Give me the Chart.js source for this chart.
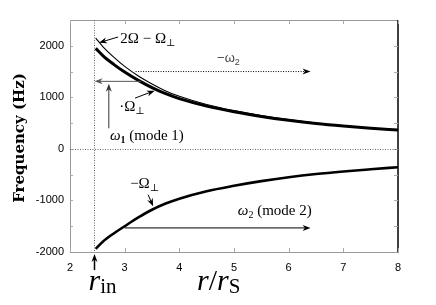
<!DOCTYPE html>
<html>
<head>
<meta charset="utf-8">
<script src="https://cdn.jsdelivr.net/npm/chart.js@4.4.1/dist/chart.umd.min.js"></script>
<style>
  html, body { margin: 0; padding: 0; background: #fff; }
  canvas { display: block; }
</style>
</head>
<body>
<canvas id="freqChart" width="436" height="305"></canvas>
<script>
// radius in units of r_S, frequencies in Hz
var radius            = [2.47, 2.6, 2.8, 3.0, 3.25, 3.5, 3.75, 4.0, 4.5, 5.0, 5.5, 6.0, 6.5, 7.0, 7.5, 8.0];
var omegaPerp         = [1950, 1810, 1640, 1490, 1330, 1190, 1070, 975, 830, 720, 630, 555, 492, 442, 400, 365];
var twoOmegaMinusPerp = [2150, 1985, 1780, 1600, 1415, 1260, 1125, 1020, 860, 742, 648, 568, 502, 449, 405, 368];
var negOmegaPerp      = [-1940, -1800, -1640, -1500, -1330, -1180, -1060, -965, -820, -715, -625, -550, -488, -438, -395, -355];

var xTicks = [2, 3, 4, 5, 6, 7, 8];
var yTicks = [-2000, -1000, 0, 1000, 2000];
var yMinorTicks = [-1500, -1000, -500, 0, 500, 1000, 1500, 2000];
var rIn = 2.43;

var serif = '"Liberation Serif", "DejaVu Serif", serif';
var sans = '"Liberation Sans", Arial, sans-serif';

function pts(vals) {
  return radius.map(function (r, i) { return { x: r, y: vals[i] }; });
}

function mathText(ctx, x, y, segs, color) {
  ctx.save();
  ctx.fillStyle = color || '#000';
  ctx.textBaseline = 'alphabetic';
  ctx.textAlign = 'left';
  segs.forEach(function (s) {
    ctx.font = s[1];
    ctx.fillText(s[0], x, y + (s[2] || 0));
    x += ctx.measureText(s[0]).width;
  });
  ctx.restore();
}

function arrow(ctx, x1, y1, x2, y2, dashed, color, width) {
  var a = Math.atan2(y2 - y1, x2 - x1), len = 8, w = 3;
  ctx.save();
  ctx.strokeStyle = color || '#000';
  ctx.fillStyle = color || '#000';
  ctx.lineWidth = width || 1;
  if (dashed) ctx.setLineDash([1, 1.5]);
  ctx.beginPath();
  ctx.moveTo(x1, y1);
  ctx.lineTo(x2 - Math.cos(a) * len * 0.6, y2 - Math.sin(a) * len * 0.6);
  ctx.stroke();
  ctx.setLineDash([]);
  ctx.beginPath();
  ctx.moveTo(x2, y2);
  ctx.lineTo(x2 - Math.cos(a) * len - Math.sin(a) * w, y2 - Math.sin(a) * len + Math.cos(a) * w);
  ctx.lineTo(x2 - Math.cos(a) * len * 0.7, y2 - Math.sin(a) * len * 0.7);
  ctx.lineTo(x2 - Math.cos(a) * len + Math.sin(a) * w, y2 - Math.sin(a) * len - Math.cos(a) * w);
  ctx.closePath();
  ctx.fill();
  ctx.restore();
}

// arrows and labels, in data units (r, Hz)
var arrows = [
  { from: [2.88, 2170], to: [2.53, 2060] },
  { from: [3.3, 1310], to: [2.45, 1310], color: '#555' },
  { from: [2.71, 400], to: [2.71, 1265], color: '#333' },
  { from: [3.19, 985], to: [3.55, 1130] },
  { from: [3.2, 1500], to: [6.4, 1500], dashed: true },
  { from: [3.43, -890], to: [3.52, -1115] },
  { from: [3.0, -1533], to: [6.4, -1533] }
];

var labels = [
  { at: [2.92, 2056], segs: [['2Ω − Ω', '15px ' + serif], ['⊥', '10px ' + serif, 3]] },
  { at: [2.73, 175], segs: [['ω', 'italic 15px ' + serif], ['1', 'bold 10px ' + serif, 3], [' (mode 1)', '15px ' + serif]] },
  { at: [2.9, 737], segs: [['·Ω', '15px ' + serif], ['⊥', '10px ' + serif, 3]] },
  { at: [4.69, 1690], segs: [['−ω', '13px ' + sans], ['2', '9px ' + sans, 3]], color: '#444' },
  { at: [3.1, -757], segs: [['−Ω', '15px ' + serif], ['⊥', '10px ' + serif, 3]] },
  { at: [5.07, -1280], segs: [['ω', 'italic 15px ' + serif], ['2', '10px ' + serif, 3], [' (mode 2)', '15px ' + serif]] }
];

var decorations = {
  id: 'decorations',
  afterDatasetsDraw: function (chart) {
    var ctx = chart.ctx, ca = chart.chartArea;
    var xs = chart.scales.x, ys = chart.scales.y;
    var X = function (v) { return xs.getPixelForValue(v); };
    var Y = function (v) { return ys.getPixelForValue(v); };

    ctx.save();
    // frame: top gray, right black
    ctx.strokeStyle = '#999';
    ctx.lineWidth = 1;
    ctx.beginPath();
    ctx.moveTo(ca.left, ca.top + 0.5); ctx.lineTo(ca.right, ca.top + 0.5);
    ctx.stroke();
    ctx.strokeStyle = '#000';
    ctx.lineWidth = 1.5;
    ctx.beginPath();
    ctx.moveTo(ca.right, ca.top); ctx.lineTo(ca.right, ca.bottom);
    ctx.stroke();

    // inner ticks
    ctx.strokeStyle = '#aaa';
    ctx.lineWidth = 1;
    ctx.beginPath();
    xTicks.forEach(function (v) {
      var x = Math.round(X(v)) + 0.5;
      ctx.moveTo(x, ca.bottom); ctx.lineTo(x, ca.bottom - 4);
      ctx.moveTo(x, ca.top); ctx.lineTo(x, ca.top + 4);
    });
    yMinorTicks.forEach(function (v) {
      var y = Math.round(Y(v)) + 0.5;
      ctx.moveTo(ca.left, y); ctx.lineTo(ca.left + 3, y);
      ctx.moveTo(ca.right, y); ctx.lineTo(ca.right - 4, y);
    });
    ctx.stroke();

    // dotted zero line and r_in line
    ctx.strokeStyle = '#666';
    ctx.setLineDash([1, 1.5]);
    ctx.beginPath();
    var y0 = Math.round(Y(0)) + 0.5, xr = Math.round(X(rIn)) + 0.5;
    ctx.moveTo(ca.left, y0); ctx.lineTo(ca.right, y0);
    ctx.moveTo(xr, ca.top); ctx.lineTo(xr, ca.bottom);
    ctx.stroke();
    ctx.setLineDash([]);
    ctx.restore();

    arrows.forEach(function (a) {
      arrow(ctx, X(a.from[0]), Y(a.from[1]), X(a.to[0]), Y(a.to[1]), a.dashed, a.color);
    });
    labels.forEach(function (l) {
      mathText(ctx, X(l.at[0]), Y(l.at[1]), l.segs, l.color);
    });

    // r_in marker below the axis
    arrow(ctx, xr, ca.bottom + 18, xr, ca.bottom + 2, false, '#000', 1.5);
    mathText(ctx, xr - 6, 290, [['r', 'italic 30px ' + serif], ['in', '21px ' + serif, 3]]);

    // x title
    mathText(ctx, 197, 290, [['r', 'italic 30px ' + serif], ['/', '30px ' + serif], ['r', 'italic 30px ' + serif], ['S', '21px ' + serif, 3]]);

    // y title
    ctx.save();
    ctx.translate(20, (ca.top + ca.bottom) / 2 + 2);
    ctx.rotate(-Math.PI / 2);
    ctx.font = 'bold 15px "DejaVu Serif", serif';
    ctx.fillStyle = '#000';
    ctx.textAlign = 'center';
    ctx.textBaseline = 'middle';
    ctx.fillText('Frequency (Hz)', 0, 0);
    ctx.restore();
  }
};

new Chart(document.getElementById('freqChart'), {
  type: 'scatter',
  data: {
    datasets: [
      { label: 'Ω⊥', data: pts(omegaPerp), showLine: true, borderColor: '#000', borderWidth: 3, pointRadius: 0, cubicInterpolationMode: 'monotone' },
      { label: '−Ω⊥', data: pts(negOmegaPerp), showLine: true, borderColor: '#000', borderWidth: 2.6, pointRadius: 0, cubicInterpolationMode: 'monotone' },
      { label: '2Ω − Ω⊥', data: pts(twoOmegaMinusPerp), showLine: true, borderColor: '#000', borderWidth: 1.1, pointRadius: 0, cubicInterpolationMode: 'monotone' }
    ]
  },
  options: {
    responsive: false,
    animation: false,
    layout: { padding: { top: 20, right: 38, left: 0, bottom: 0 } },
    plugins: { legend: { display: false }, tooltip: { enabled: false } },
    scales: {
      x: {
        type: 'linear', min: 2, max: 8,
        afterBuildTicks: function (s) { s.ticks = xTicks.map(function (v) { return { value: v }; }); },
        afterFit: function (s) { s.height = 53; },
        grid: { display: false, drawTicks: false },
        border: { color: '#999' },
        ticks: { color: '#000', padding: 9, font: { family: sans, size: 11 }, maxRotation: 0,
                 callback: function (v) { return String(v); } }
      },
      y: {
        min: -2000, max: 2500,
        afterBuildTicks: function (s) { s.ticks = yTicks.map(function (v) { return { value: v }; }); },
        afterFit: function (s) { s.width = 70; },
        grid: { display: false, drawTicks: false },
        border: { color: '#999' },
        ticks: { color: '#000', padding: 6, font: { family: sans, size: 11 },
                 callback: function (v) { return String(v); } }
      }
    }
  },
  plugins: [decorations]
});
</script>
</body>
</html>
